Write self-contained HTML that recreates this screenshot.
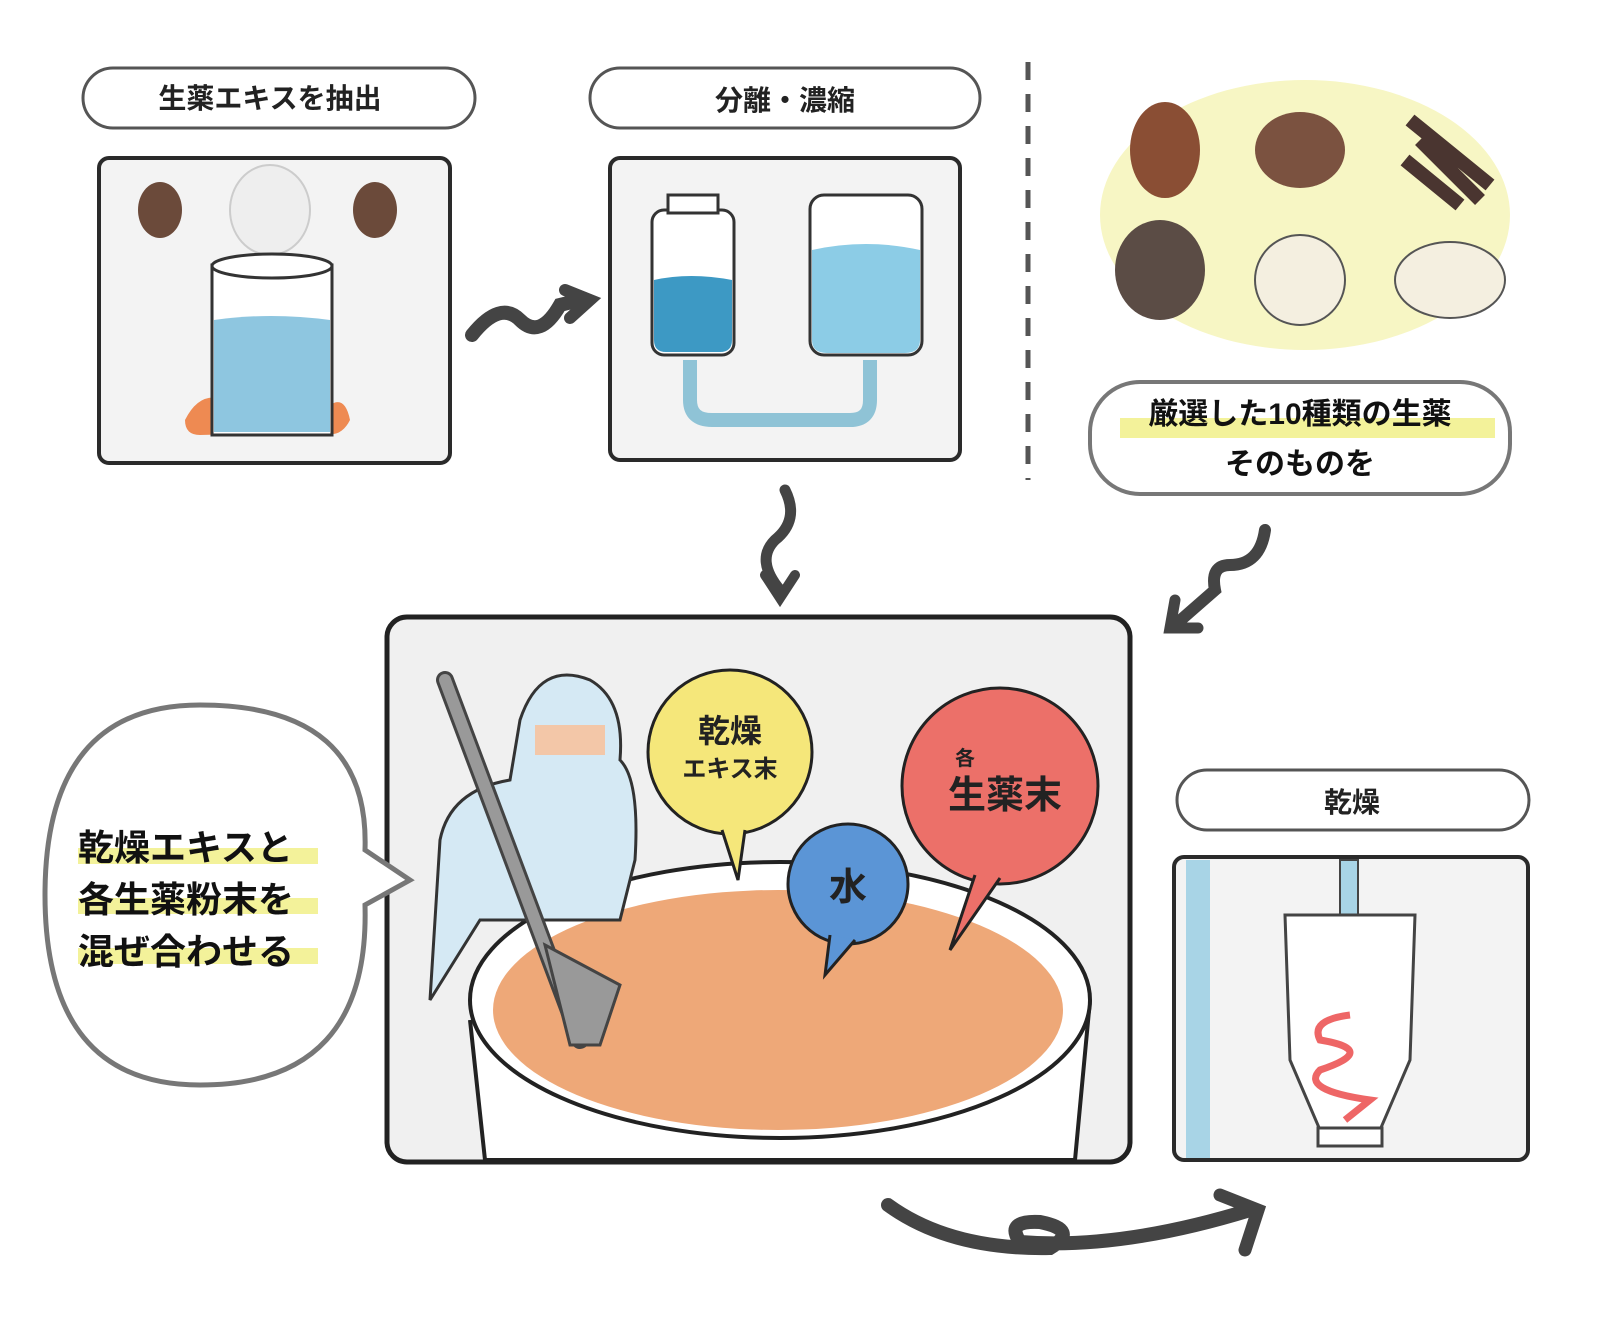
<!DOCTYPE html>
<html><head><meta charset="utf-8"><style>
html,body{margin:0;padding:0;background:#fff}
svg{display:block}
text{font-family:"Liberation Sans","Noto Sans CJK JP",sans-serif;font-weight:bold}
</style></head><body>
<svg width="1600" height="1329" viewBox="0 0 1600 1329" xmlns="http://www.w3.org/2000/svg">
<rect width="1600" height="1329" fill="#fff"/>
<g fill="#fff" stroke="#555" stroke-width="3">
<rect x="83" y="68" width="392" height="60" rx="30"/>
<rect x="590" y="68" width="390" height="60" rx="30"/>
<rect x="1177" y="770" width="352" height="60" rx="30"/>
</g>
<text x="270" y="108" font-size="28" text-anchor="middle" fill="#222">生薬エキスを抽出</text>
<text x="785" y="110" font-size="28" text-anchor="middle" fill="#222">分離・濃縮</text>
<text x="1352" y="812" font-size="28" text-anchor="middle" fill="#222">乾燥</text>

<!-- panel 1 -->
<rect x="99" y="158" width="351" height="305" rx="10" fill="#f3f3f3" stroke="#2a2a2a" stroke-width="4"/>
<path d="M185 420 Q200 390 225 400 Q235 380 250 405 Q270 385 300 410 Q320 390 330 405 Q345 395 350 420 Q340 440 320 432 L200 435 Q185 435 185 420Z" fill="#ee8a52"/>
<rect x="212" y="265" width="120" height="170" fill="#fff" stroke="#333" stroke-width="3"/>
<path d="M214 320 Q270 312 330 320 L330 432 L214 432Z" fill="#8ec6e0"/>
<ellipse cx="270" cy="210" rx="40" ry="45" fill="#eee" stroke="#ccc" stroke-width="2"/>
<ellipse cx="272" cy="266" rx="60" ry="12" fill="#fff" stroke="#333" stroke-width="3"/>
<ellipse cx="160" cy="210" rx="22" ry="28" fill="#6b4a3a"/>
<ellipse cx="375" cy="210" rx="22" ry="28" fill="#6b4a3a"/>
<!-- arrow 1 -->
<path d="M472 335 Q500 300 520 320 Q540 340 560 305 L580 300" fill="none" stroke="#444" stroke-width="14" stroke-linecap="round"/>
<path d="M565 290 L590 300 L570 318" fill="none" stroke="#444" stroke-width="12" stroke-linecap="round"/>

<!-- panel 2 -->
<rect x="610" y="158" width="350" height="302" rx="10" fill="#f3f3f3" stroke="#2a2a2a" stroke-width="4"/>
<path d="M690 360 L690 400 Q690 420 712 420 L850 420 Q870 420 870 400 L870 360" fill="none" stroke="#8fc3d6" stroke-width="14"/>
<rect x="652" y="210" width="82" height="145" rx="12" fill="#fff" stroke="#333" stroke-width="3"/>
<rect x="668" y="195" width="50" height="18" fill="#fff" stroke="#333" stroke-width="3"/>
<path d="M654 280 Q690 272 732 280 L732 340 Q732 352 720 352 L666 352 Q654 352 654 340Z" fill="#3d99c4"/>
<rect x="810" y="195" width="112" height="160" rx="14" fill="#fff" stroke="#333" stroke-width="3"/>
<path d="M812 250 Q866 238 920 250 L920 340 Q920 353 905 353 L827 353 Q812 353 812 340Z" fill="#8ccce6"/>

<!-- dashed line -->
<line x1="1028" y1="62" x2="1028" y2="480" stroke="#555" stroke-width="5" stroke-dasharray="18 14"/>

<!-- herbs -->
<ellipse cx="1305" cy="215" rx="205" ry="135" fill="#f7f6c4"/>
<ellipse cx="1165" cy="150" rx="35" ry="48" fill="#8a4e34"/>
<ellipse cx="1300" cy="150" rx="45" ry="38" fill="#7b5240"/>
<path d="M1410 120 L1490 185 M1420 140 L1480 200 M1405 160 L1460 205" stroke="#4a3530" stroke-width="14"/>
<ellipse cx="1160" cy="270" rx="45" ry="50" fill="#5b4c45"/>
<ellipse cx="1300" cy="280" rx="45" ry="45" fill="#f4efe0" stroke="#555" stroke-width="2"/>
<ellipse cx="1450" cy="280" rx="55" ry="38" fill="#f4efe0" stroke="#555" stroke-width="2"/>
<!-- label 3 -->
<rect x="1090" y="382" width="420" height="112" rx="50" fill="#fff" stroke="#777" stroke-width="4"/>
<rect x="1120" y="418" width="375" height="20" fill="#f3f29a"/>
<text x="1300" y="424" font-size="30" text-anchor="middle" fill="#111">厳選した10種類の生薬</text>
<text x="1300" y="474" font-size="30" text-anchor="middle" fill="#111">そのものを</text>

<!-- arrows down -->
<path d="M785 490 Q800 520 775 540 Q755 560 780 590" fill="none" stroke="#444" stroke-width="11" stroke-linecap="round"/>
<path d="M765 575 L780 598 L795 575" fill="none" stroke="#444" stroke-width="10" stroke-linecap="round"/>
<path d="M1265 530 Q1260 565 1230 565 Q1210 565 1215 590 L1175 625" fill="none" stroke="#444" stroke-width="12" stroke-linecap="round"/>
<path d="M1175 600 L1170 628 L1198 628" fill="none" stroke="#444" stroke-width="11" stroke-linecap="round"/>

<!-- main panel -->
<rect x="387" y="617" width="743" height="545" rx="20" fill="#f0f0f0" stroke="#222" stroke-width="5"/>
<path d="M470 1020 L485 1160 L1075 1160 L1090 1000" fill="#fff" stroke="#222" stroke-width="4"/>
<ellipse cx="780" cy="1000" rx="310" ry="138" fill="#fff" stroke="#222" stroke-width="4"/>
<ellipse cx="778" cy="1010" rx="285" ry="120" fill="#eea878"/>
<!-- worker -->
<path d="M430 1000 L440 840 Q450 790 510 780 L520 720 Q540 660 590 680 Q625 700 620 760 Q640 780 635 860 L620 920 L480 920 Z" fill="#d5e9f4" stroke="#333" stroke-width="3"/>
<rect x="535" y="725" width="70" height="30" fill="#f3c7a8"/>
<path d="M445 680 L580 1040" stroke="#444" stroke-width="18" stroke-linecap="round"/>
<path d="M445 680 L580 1040" stroke="#999" stroke-width="12" stroke-linecap="round"/>
<path d="M545 945 L620 985 L600 1045 L570 1045Z" fill="#999" stroke="#444" stroke-width="3"/>
<!-- bubbles -->
<circle cx="730" cy="752" r="82" fill="#f5e77a" stroke="#222" stroke-width="3"/>
<path d="M722 830 L738 880 L745 830" fill="#f5e77a" stroke="#222" stroke-width="3"/>
<text x="730" y="742" font-size="32" text-anchor="middle" fill="#222">乾燥</text>
<text x="730" y="777" font-size="24" text-anchor="middle" fill="#222">エキス末</text>
<circle cx="1000" cy="786" r="98" fill="#ec7069" stroke="#222" stroke-width="3"/>
<path d="M975 875 L950 950 L1000 878" fill="#ec7069" stroke="#222" stroke-width="3"/>
<text x="955" y="765" font-size="20" fill="#222">各</text>
<text x="1005" y="808" font-size="38" text-anchor="middle" fill="#222">生薬末</text>
<circle cx="848" cy="884" r="60" fill="#5b95d6" stroke="#222" stroke-width="3"/>
<path d="M830 935 L825 975 L855 940" fill="#5b95d6" stroke="#222" stroke-width="3"/>
<text x="848" y="900" font-size="38" text-anchor="middle" fill="#222">水</text>

<!-- left bubble -->
<path d="M200 705 Q370 705 365 850 L410 880 L365 905 Q370 1085 200 1085 Q45 1085 45 895 Q45 705 200 705Z" fill="#fff" stroke="#777" stroke-width="5"/>
<rect x="78" y="848" width="240" height="16" fill="#f3f29a"/>
<rect x="78" y="898" width="240" height="16" fill="#f3f29a"/>
<rect x="78" y="948" width="240" height="16" fill="#f3f29a"/>
<text x="78" y="860" font-size="36" fill="#111">乾燥エキスと</text>
<text x="78" y="912" font-size="36" fill="#111">各生薬粉末を</text>
<text x="78" y="964" font-size="36" fill="#111">混ぜ合わせる</text>

<!-- dry panel -->
<rect x="1174" y="857" width="354" height="303" rx="10" fill="#f3f3f3" stroke="#2a2a2a" stroke-width="4"/>
<rect x="1186" y="860" width="24" height="298" fill="#a8d4e6"/>
<rect x="1340" y="860" width="18" height="60" fill="#a8d4e6" stroke="#444" stroke-width="2"/>
<path d="M1285 915 L1415 915 L1410 1060 L1380 1130 L1320 1130 L1290 1060Z" fill="#fff" stroke="#444" stroke-width="3"/>
<rect x="1318" y="1128" width="64" height="18" fill="#fff" stroke="#444" stroke-width="3"/>
<path d="M1350 1015 Q1310 1020 1320 1040 Q1380 1050 1320 1070 Q1300 1090 1370 1100 L1345 1120" fill="none" stroke="#e66" stroke-width="7"/>
<!-- bottom arrow -->
<path d="M888 1205 Q950 1250 1050 1248 Q1080 1230 1040 1222 Q1005 1220 1020 1242 Q1120 1250 1250 1210" fill="none" stroke="#444" stroke-width="14" stroke-linecap="round"/>
<path d="M1220 1195 L1258 1210 L1245 1250" fill="none" stroke="#444" stroke-width="13" stroke-linecap="round"/>
</svg>
</body></html>
